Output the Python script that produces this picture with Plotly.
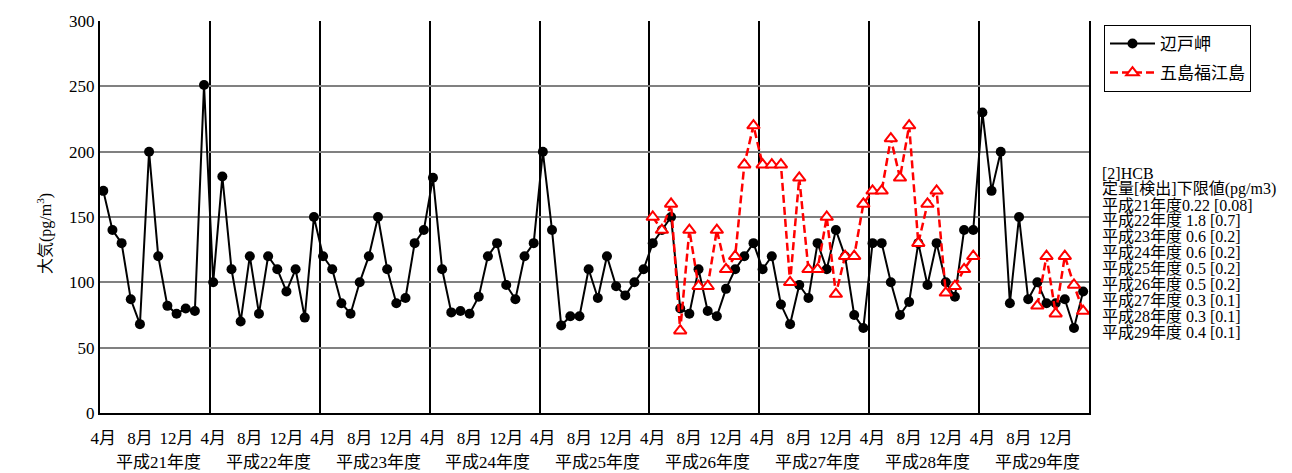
import plotly.graph_objects as go

# Monthly HCB concentrations in air (pg/m3), fiscal years H21-H29 (April..March)
years = ["平成21年度", "平成22年度", "平成23年度", "平成24年度", "平成25年度",
         "平成26年度", "平成27年度", "平成28年度", "平成29年度"]
month_labels = ["4月", "8月", "12月"]

hedo = [
    170, 140, 130, 87, 68, 200, 120, 82, 76, 80, 78, 251,      # H21
    100, 181, 110, 70, 120, 76, 120, 110, 93, 110, 73, 150,    # H22
    120, 110, 84, 76, 100, 120, 150, 110, 84, 88, 130, 140,    # H23
    180, 110, 77, 78, 76, 89, 120, 130, 98, 87, 120, 130,      # H24
    200, 140, 67, 74, 74, 110, 88, 120, 97, 90, 100, 110,      # H25
    130, 140, 150, 80, 76, 110, 78, 74, 95, 110, 120, 130,     # H26
    110, 120, 83, 68, 98, 88, 130, 110, 140, 120, 75, 65,      # H27
    130, 130, 100, 75, 85, 130, 98, 130, 100, 89, 140, 140,    # H28
    230, 170, 200, 84, 150, 87, 100, 84, 84, 87, 65, 93,       # H29
]

goto_start = 60  # Goto-Fukue monitoring begins April H26
goto = [
    150, 140, 160, 63, 140, 97, 97, 140, 110, 120, 190, 220,       # H26
    190, 190, 190, 100, 180, 110, 110, 150, 91, 120, 120, 160,     # H27
    170, 170, 210, 180, 220, 130, 160, 170, 92, 97, 110, 120,      # H28
    None, None, None, None, None, None, 82, 120, 76, 120, 98, 78,  # H29
]

note_lines = [
    "[2]HCB",
    "定量[検出]下限値(pg/m3)",
    "平成21年度0.22 [0.08]",
    "平成22年度 1.8 [0.7]",
    "平成23年度 0.6 [0.2]",
    "平成24年度 0.6 [0.2]",
    "平成25年度 0.5 [0.2]",
    "平成26年度 0.5 [0.2]",
    "平成27年度 0.3 [0.1]",
    "平成28年度 0.3 [0.1]",
    "平成29年度 0.4 [0.1]",
]

FONT = "Liberation Serif, 'Noto Sans CJK JP', serif"
n_months = 12 * len(years)
x_hedo = list(range(n_months))
x_goto = list(range(goto_start, goto_start + len(goto)))

fig = go.Figure()
fig.add_trace(go.Scatter(
    x=x_hedo, y=hedo, name="辺戸岬", mode="lines+markers",
    line=dict(color="black", width=2),
    marker=dict(symbol="circle", size=10, color="black"),
    legendgroup="a",
))
fig.add_trace(go.Scatter(
    x=x_goto, y=goto, name="五島福江島", mode="lines+markers",
    line=dict(color="#ff0000", width=2.5, dash="8px,4px"),
    marker=dict(symbol="triangle-up", size=11, color="white",
                line=dict(color="#ff0000", width=2)),
    connectgaps=False,
    legendgroup="b",
))

tickvals, ticktext = [], []
for k in range(len(years)):
    for j, lab in enumerate(month_labels):
        tickvals.append(12 * k + 4 * j)
        ticktext.append(lab)

off = 0.36
y_range = [0, 300]
fig.update_xaxes(
    range=[-off, n_months - off],
    tickmode="array", tickvals=tickvals, ticktext=ticktext,
    ticks="", showgrid=False, zeroline=False,
    showline=True, linecolor="black", linewidth=2,
    tickfont=dict(family=FONT, size=17, color="black"),
    ticklabelstandoff=9,
    minor=dict(tickvals=[12 * k - off for k in range(1, len(years))],
               showgrid=True, gridcolor="black", gridwidth=2, ticks=""),
)
fig.update_yaxes(
    range=y_range, tickmode="array", tickvals=list(range(0, 301, 50)),
    ticks="", showgrid=True, gridcolor="#808080", gridwidth=1.5,
    zeroline=False, showline=True, linecolor="black", linewidth=2, mirror=True,
    tickfont=dict(family=FONT, size=17, color="black"),
)

# overlay axis carrying only the darker line at 150
fig.update_layout(yaxis2=dict(
    overlaying="y", range=y_range, tickmode="array", tickvals=[150],
    showticklabels=False, ticks="", showgrid=True, gridcolor="black",
    gridwidth=1.2, zeroline=False, showline=False,
))

annotations = []
for k, yr in enumerate(years):
    annotations.append(dict(
        x=12 * k + 6, xref="x", y=0, yref="paper", yshift=-49,
        text=yr, showarrow=False, xanchor="center", yanchor="middle",
        font=dict(family=FONT, size=17, color="black"),
    ))

annotations.append(dict(
    x=-0.0556, xref="paper", y=137, yref="y", text="大気(pg/m<sup>3</sup>)",
    textangle=-90, showarrow=False, xanchor="center", yanchor="middle",
    font=dict(family=FONT, size=16, color="black"),
))

plot_top, plot_bottom = 15, 413
note_y = [170, 186, 202, 218, 234, 250, 266, 283, 299, 315, 331]
for txt, py in zip(note_lines, note_y):
    annotations.append(dict(
        x=(1100 - 100) / 989, xref="paper",
        y=(plot_bottom - py) / (plot_bottom - plot_top), yref="paper",
        text=txt, showarrow=False, xanchor="left", yanchor="middle",
        font=dict(family=FONT, size=16, color="black"),
    ))

fig.update_layout(
    width=1292, height=473,
    margin=dict(l=100, r=203, t=15, b=60),
    paper_bgcolor="white", plot_bgcolor="white",
    font=dict(family=FONT, size=17, color="black"),
    showlegend=True,
    legend=dict(
        x=(1104 - 100) / 989, y=1 - (19 - 15) / 398, xanchor="left", yanchor="top",
        bordercolor="black", borderwidth=1, bgcolor="white",
        font=dict(family=FONT, size=17, color="black"),
        traceorder="grouped", tracegroupgap=4, itemwidth=45,
    ),
    annotations=annotations,
)

fig.write_html("out.html")
